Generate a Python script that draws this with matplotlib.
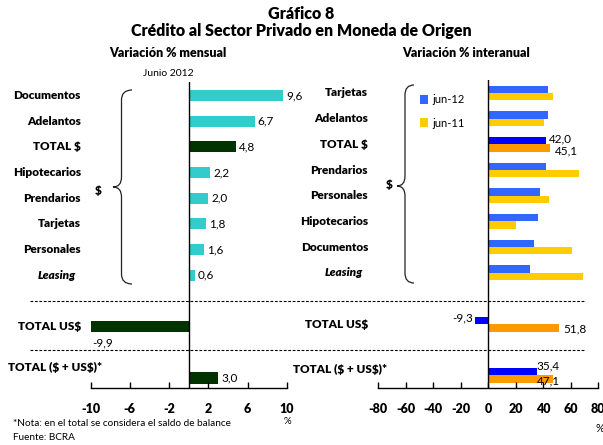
import numpy as np
import matplotlib
matplotlib.use('Agg')
import matplotlib.pyplot as plt
from matplotlib.path import Path
from matplotlib.patches import PathPatch
from matplotlib.transforms import blended_transform_factory

plt.rcParams['font.family'] = ['Lato', 'DejaVu Sans']

# monthly change, June 2012
cats_m = ['Documentos', 'Adelantos', 'TOTAL $', 'Hipotecarios', 'Prendarios',
          'Tarjetas', 'Personales', 'Leasing']
vals_m = [9.6, 6.7, 4.8, 2.2, 2.0, 1.8, 1.6, 0.6]
usd_m = -9.9
tot_m = 3.0

# year-on-year change
cats_a = ['Tarjetas', 'Adelantos', 'TOTAL $', 'Prendarios', 'Personales',
          'Hipotecarios', 'Documentos', 'Leasing']
jun12 = [43.3, 43.3, 42.0, 42.0, 37.6, 36.2, 33.2, 30.3]
jun11 = [47.2, 40.6, 45.1, 66.0, 44.2, 20.1, 60.9, 68.9]
usd_a = [-9.3, 51.8]
tot_a = [35.4, 47.1]

cyan = '#33CCCC'
dgreen = '#003300'
blue = '#3366FF'
blue_t = '#0000FF'
yellow = '#FFCC00'
orange = '#FF9900'

BW = 'heavy'  # weight for bold labels

W, H = 603, 445
fig = plt.figure(figsize=(W / 100, H / 100), dpi=100)

def px_axes(x0, x1, y0, y1):
    return fig.add_axes([x0 / W, 1 - y1 / H, (x1 - x0) / W, (y1 - y0) / H])

ov = fig.add_axes([0, 0, 1, 1], zorder=5)
ov.set_xlim(0, W)
ov.set_ylim(H, 0)
ov.axis('off')
ov.patch.set_alpha(0)

axl = px_axes(90.5, 287, 82, 388)
axr = px_axes(378, 598, 80, 388)
axl.set_ylim(11.39, -0.526)
axr.set_ylim(11.49, -0.506)
axl.set_xlim(-10, 10)
axr.set_xlim(-80, 80)

rows = np.arange(8)
y_usd, y_tot = 9, 11
fmt = lambda v: f'{v:.1f}'.replace('.', ',')
VS = 8.5

# left panel
cols_m = [dgreen if c == 'TOTAL $' else cyan for c in cats_m]
axl.barh(rows, vals_m, height=0.43, color=cols_m)
axl.barh([y_usd, y_tot], [usd_m, tot_m], height=0.43, color=dgreen)
for y, v in zip(rows, vals_m):
    axl.text(v + 0.3, y, fmt(v), va='center', ha='left', fontsize=VS)
axl.text(tot_m + 0.3, y_tot, fmt(tot_m), va='center', ha='left', fontsize=VS)
axl.text(usd_m + 0.1, y_usd + 0.62, fmt(usd_m), va='center', ha='left', fontsize=VS)

# right panel
h = 0.29
c12 = [blue_t if c == 'TOTAL $' else blue for c in cats_a]
c11 = [orange if c == 'TOTAL $' else yellow for c in cats_a]
axr.barh(rows - h / 2, jun12, height=h, color=c12, label='jun-12')
axr.barh(rows + h / 2, jun11, height=h, color=c11, label='jun-11')
axr.barh([y_usd - h / 2, y_tot - h / 2], [usd_a[0], tot_a[0]], height=h, color=blue_t)
axr.barh([y_usd + h / 2, y_tot + h / 2], [usd_a[1], tot_a[1]], height=h, color=orange)
i_t = cats_a.index('TOTAL $')
axr.text(jun12[i_t] + 2.2, i_t - h / 2 - 0.05, fmt(jun12[i_t]), va='center', ha='left', fontsize=VS)
axr.text(jun11[i_t] + 3.5, i_t + h / 2 + 0.1, fmt(jun11[i_t]), va='center', ha='left', fontsize=VS)
axr.text(usd_a[0] - 1.5, y_usd - h / 2 - 0.1, fmt(usd_a[0]), va='center', ha='right', fontsize=VS)
axr.text(usd_a[1] + 2.7, y_usd + h / 2 + 0.05, fmt(usd_a[1]), va='center', ha='left', fontsize=VS)
axr.text(tot_a[0], y_tot - h / 2 - 0.22, fmt(tot_a[0]), va='center', ha='left', fontsize=VS)
axr.text(tot_a[0] + 0.5, y_tot + h / 2 + 0.05, fmt(tot_a[1]), va='center', ha='left', fontsize=VS)

for ax, ticks in [(axl, [-10, -6, -2, 2, 6, 10]), (axr, list(range(-80, 81, 20)))]:
    for s in ['top', 'left', 'right']:
        ax.spines[s].set_visible(False)
    ax.spines['bottom'].set_linewidth(1.0)
    ax.axvline(0, color='black', lw=1.0)
    ax.set_yticks([])
    ax.set_xticks(ticks)
    ax.set_xticklabels([str(t) for t in ticks], fontweight=BW, fontsize=9)
    ax.tick_params(axis='x', direction='in', length=4, width=1.0, pad=11)
    ax.patch.set_alpha(0)

# category labels
LS = 8.5
tl = blended_transform_factory(ov.transData, axl.transData)
tr = blended_transform_factory(ov.transData, axr.transData)
for y, c in zip(rows, cats_m):
    if c == 'Leasing':
        ov.text(76, y, c, transform=tl, ha='right', va='center', fontsize=LS,
                fontweight=BW, fontstyle='italic')
    else:
        ov.text(81, y, c.replace('$', r'\$'), transform=tl, ha='right', va='center',
                fontsize=LS, fontweight=BW)
for y, c in zip(rows, cats_a):
    if c == 'Leasing':
        ov.text(363, y, c, transform=tr, ha='right', va='center', fontsize=LS,
                fontweight=BW, fontstyle='italic')
    else:
        ov.text(368, y, c.replace('$', r'\$'), transform=tr, ha='right', va='center',
                fontsize=LS, fontweight=BW)
ov.text(81, y_usd, r'TOTAL US\$', transform=tl, ha='right', va='center', fontsize=LS, fontweight=BW)
ov.text(8, 10.6, r'TOTAL (\$ + US\$)*', transform=tl, ha='left', va='center', fontsize=LS, fontweight=BW)
ov.text(368, y_usd, r'TOTAL US\$', transform=tr, ha='right', va='center', fontsize=LS, fontweight=BW)
ov.text(293, 10.76, r'TOTAL (\$ + US\$)*', transform=tr, ha='left', va='center', fontsize=LS, fontweight=BW)

# legend
leg = axr.legend(loc='upper left', bbox_to_anchor=(38 / 220, 1 - 10 / 308), frameon=False,
                 fontsize=8, handlelength=0.7, handleheight=0.9, handletextpad=0.4,
                 labelspacing=1.1, borderaxespad=0)

# titles
ov.text(301, 14, 'Gráfico 8', ha='center', va='center', fontsize=11.5, fontweight=BW)
ov.text(301, 31, 'Crédito al Sector Privado en Moneda de Origen', ha='center', va='center',
        fontsize=11.5, fontweight=BW)
ov.text(168, 53, 'Variación % mensual', ha='center', va='center', fontsize=9, fontweight=BW)
ov.text(466, 53, 'Variación % interanual', ha='center', va='center', fontsize=9, fontweight=BW)
ov.text(168, 73, 'Junio 2012', ha='center', va='center', fontsize=7.5)
ov.text(287, 422, '%', ha='center', va='center', fontsize=7)
ov.text(600, 428, '%', ha='center', va='center', fontsize=8)
ov.text(13, 424, '*Nota: en el total se considera el saldo de balance', ha='left', va='center', fontsize=7.2)
ov.text(13, 438, 'Fuente: BCRA', ha='left', va='center', fontsize=7.2)

# dashed separators
for yy in [301, 350]:
    ov.plot([30, 585], [yy, yy], color='black', lw=0.8, ls=(0, (2.5, 1.5)))

# braces
def brace(x_end, x_mid, x_tip, y_top, y_tip, y_bot):
    r = 10
    verts = [(x_end, y_top), (x_mid, y_top), (x_mid, y_top + r), (x_mid, y_top + r),
             (x_mid, y_tip - r), (x_mid, y_tip), (x_tip, y_tip),
             (x_mid, y_tip), (x_mid, y_tip + r),
             (x_mid, y_bot - r), (x_mid, y_bot - r), (x_mid, y_bot), (x_end, y_bot)]
    codes = [Path.MOVETO, Path.CURVE3, Path.CURVE3, Path.LINETO,
             Path.LINETO, Path.CURVE3, Path.CURVE3,
             Path.CURVE3, Path.CURVE3,
             Path.LINETO, Path.LINETO, Path.CURVE3, Path.CURVE3]
    ov.add_patch(PathPatch(Path(verts, codes), fill=False, lw=0.9, color='#222222'))

brace(132, 121.5, 113, 90, 187, 284)
brace(414, 405, 397, 85, 186, 283)
ov.text(98, 191, r'\$', ha='center', va='center', fontsize=8.5, fontweight=BW)
ov.text(389, 184, r'\$', ha='center', va='center', fontsize=8.5, fontweight=BW)

fig.savefig('out.png', dpi=100)
